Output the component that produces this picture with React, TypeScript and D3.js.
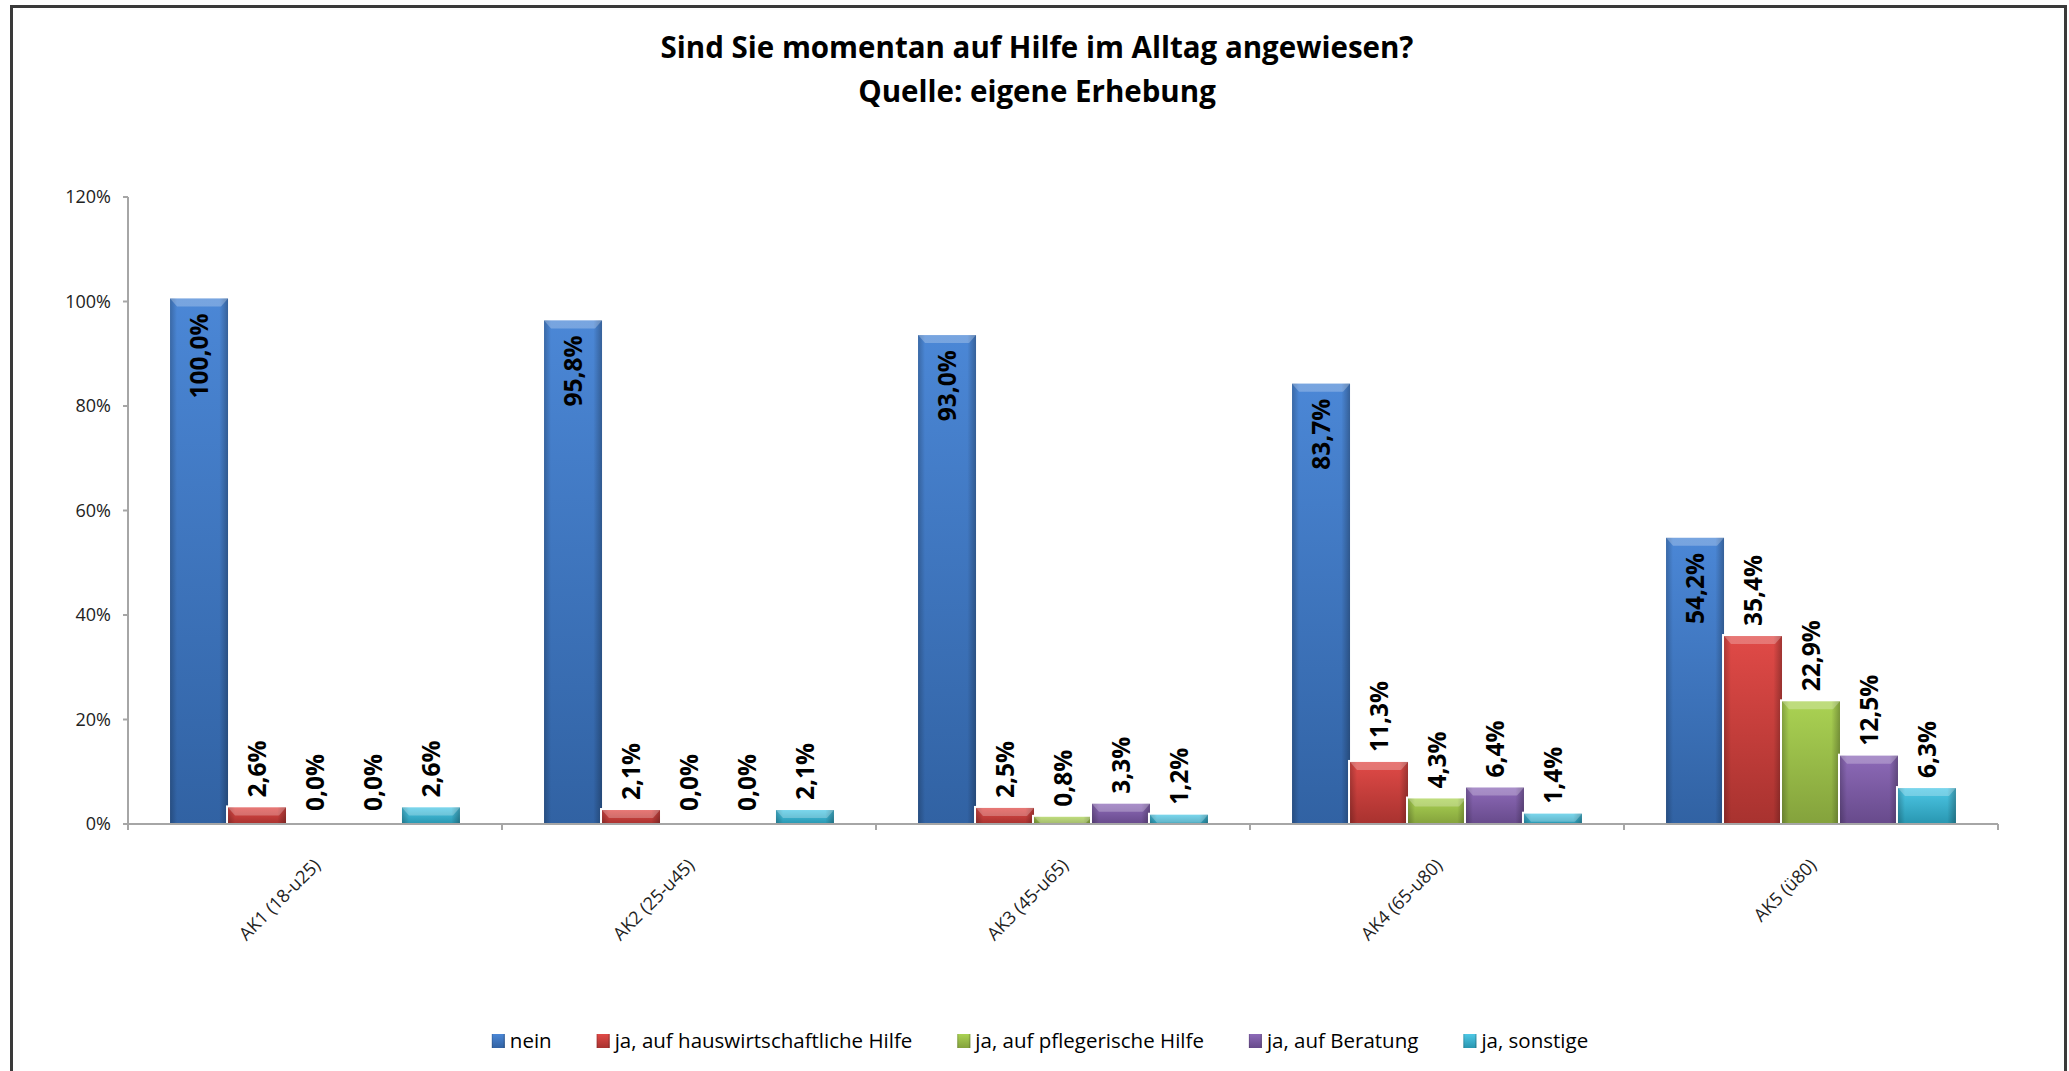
import React, { useEffect, useRef } from "react";
import * as d3 from "d3";

const categories = ["AK1 (18-u25)", "AK2 (25-u45)", "AK3 (45-u65)", "AK4 (65-u80)", "AK5 (ü80)"];
const seriesNames = [
  "nein",
  "ja, auf hauswirtschaftliche Hilfe",
  "ja, auf pflegerische Hilfe",
  "ja, auf Beratung",
  "ja, sonstige",
];
const nein = [100.0, 95.8, 93.0, 83.7, 54.2];
const hauswirtschaftlich = [2.6, 2.1, 2.5, 11.3, 35.4];
const pflegerisch = [0.0, 0.0, 0.8, 4.3, 22.9];
const beratung = [0.0, 0.0, 3.3, 6.4, 12.5];
const sonstige = [2.6, 2.1, 1.2, 1.4, 6.3];
const seriesValues = [nein, hauswirtschaftlich, pflegerisch, beratung, sonstige];
const yTicks = [0, 20, 40, 60, 80, 100, 120];

const palette = [
  { light: "#4b87d6", dark: "#3162a3" },
  { light: "#e04a47", dark: "#a8322f" },
  { light: "#aad253", dark: "#84a23c" },
  { light: "#8d6ab8", dark: "#674a8b" },
  { light: "#4ec8e6", dark: "#2896b0" },
];

const title1 = "Sind Sie momentan auf Hilfe im Alltag angewiesen?";
const title2 = "Quelle: eigene Erhebung";

const FONT = "'Open Sans', 'Liberation Sans', sans-serif";
const W = 2069;
const H = 1071;

const fmt = (v: number) => d3.format(".1f")(v).replace(".", ",") + "%";

const App: React.FC = () => {
  const svgRef = useRef<SVGSVGElement | null>(null);

  useEffect(() => {
    if (!svgRef.current) return;
    const svg = d3.select(svgRef.current);
    svg.selectAll("*").remove();

    const left = 128;
    const right = 1998;
    const top = 197;
    const bottom = 824;

    const defs = svg.append("defs");
    palette.forEach((c, i) => {
      const g = defs
        .append("linearGradient")
        .attr("id", `fill${i}`)
        .attr("x1", 0)
        .attr("y1", 0)
        .attr("x2", 0)
        .attr("y2", 1);
      g.append("stop").attr("offset", "0%").attr("stop-color", c.light);
      g.append("stop").attr("offset", "100%").attr("stop-color", c.dark);
    });
    const side = defs
      .append("linearGradient")
      .attr("id", "side")
      .attr("x1", 0)
      .attr("y1", 0)
      .attr("x2", 1)
      .attr("y2", 0);
    side.append("stop").attr("offset", "0%").attr("stop-color", "#000").attr("stop-opacity", 0.22);
    side.append("stop").attr("offset", "12%").attr("stop-color", "#000").attr("stop-opacity", 0);
    side.append("stop").attr("offset", "85%").attr("stop-color", "#000").attr("stop-opacity", 0);
    side.append("stop").attr("offset", "100%").attr("stop-color", "#000").attr("stop-opacity", 0.28);

    svg.append("rect").attr("width", W).attr("height", H).attr("fill", "#fff");

    // frame
    svg
      .append("rect")
      .attr("x", 11.5)
      .attr("y", 6.5)
      .attr("width", 2054)
      .attr("height", H + 20)
      .attr("fill", "none")
      .attr("stroke", "#3a3a3a")
      .attr("stroke-width", 3);

    // title
    [title1, title2].forEach((t, i) => {
      svg
        .append("text")
        .attr("x", 1037)
        .attr("y", 58 + i * 44)
        .attr("text-anchor", "middle")
        .attr("font-family", FONT)
        .attr("font-weight", "bold")
        .attr("font-size", 29.5)
        .text(t);
    });

    const y = d3.scaleLinear().domain([0, 120]).range([bottom, top]);
    const x0 = d3.scaleBand<string>().domain(categories).range([left, right]).padding(0);
    const x1 = d3
      .scaleBand<string>()
      .domain(seriesNames)
      .range([0, x0.bandwidth()])
      .paddingInner(0)
      .paddingOuter(0.725);

    // y axis
    const axisColor = "#a6a6a6";
    svg
      .append("line")
      .attr("x1", left)
      .attr("x2", left)
      .attr("y1", top)
      .attr("y2", bottom)
      .attr("stroke", axisColor)
      .attr("stroke-width", 2);
    yTicks.forEach((t) => {
      svg
        .append("line")
        .attr("x1", left - 5)
        .attr("x2", left)
        .attr("y1", y(t))
        .attr("y2", y(t))
        .attr("stroke", axisColor)
        .attr("stroke-width", 2);
      svg
        .append("text")
        .attr("x", left - 17)
        .attr("y", y(t))
        .attr("dy", "0.35em")
        .attr("text-anchor", "end")
        .attr("font-family", FONT)
        .attr("font-size", 18)
        .attr("fill", "#222")
        .text(`${t}%`);
    });

    // bars
    categories.forEach((cat, ci) => {
      const gx = x0(cat) ?? 0;
      seriesNames.forEach((s, si) => {
        const v = seriesValues[si][ci];
        const bx = gx + (x1(s) ?? 0);
        const bw = x1.bandwidth();
        const by = y(v) - 3;
        const bh = bottom - by;
        if (v > 0) {
          svg
            .append("rect")
            .attr("x", bx - 2)
            .attr("y", by - 2)
            .attr("width", bw + 4)
            .attr("height", bh + 2)
            .attr("fill", "#fff");
          svg
            .append("rect")
            .attr("x", bx)
            .attr("y", by)
            .attr("width", bw)
            .attr("height", bh)
            .attr("fill", `url(#fill${si})`);
          svg
            .append("rect")
            .attr("x", bx)
            .attr("y", by)
            .attr("width", bw)
            .attr("height", bh)
            .attr("fill", "url(#side)");
          const bev = Math.min(8, bh);
          svg
            .append("path")
            .attr(
              "d",
              `M${bx},${by}L${bx + bw},${by}L${bx + bw - 7},${by + bev}L${bx + 7},${by + bev}Z`
            )
            .attr("fill", "#fff")
            .attr("opacity", 0.25);
        }
        const cx = bx + bw / 2;
        const label = svg
          .append("text")
          .attr("font-family", FONT)
          .attr("font-weight", "bold")
          .attr("font-size", 24.5)
          .attr("fill", "#000")
          .attr("dy", "0.35em")
          .text(fmt(v));
        if (si === 0) {
          label
            .attr("text-anchor", "end")
            .attr("transform", `translate(${cx},${by + 15}) rotate(-90)`);
        } else {
          label
            .attr("text-anchor", "start")
            .attr("transform", `translate(${cx},${by - 10}) rotate(-90)`);
        }
      });
    });

    // x axis
    svg
      .append("line")
      .attr("x1", left)
      .attr("x2", right)
      .attr("y1", bottom)
      .attr("y2", bottom)
      .attr("stroke", axisColor)
      .attr("stroke-width", 2);
    const bounds = categories.map((c) => x0(c) ?? 0).concat([right]);
    bounds.forEach((bx) => {
      svg
        .append("line")
        .attr("x1", bx)
        .attr("x2", bx)
        .attr("y1", bottom)
        .attr("y2", bottom + 6)
        .attr("stroke", axisColor)
        .attr("stroke-width", 2);
    });
    categories.forEach((cat) => {
      const cx = (x0(cat) ?? 0) + x0.bandwidth() / 2;
      svg
        .append("text")
        .attr("text-anchor", "end")
        .attr("font-family", FONT)
        .attr("font-size", 18)
        .attr("fill", "#222")
        .attr("dy", "0.35em")
        .attr("transform", `translate(${cx + 2},${bottom + 38}) rotate(-45)`)
        .text(cat);
    });

    // legend
    const legend = svg.append("g");
    let lx = 0;
    const gap = 45;
    seriesNames.forEach((s, si) => {
      const item = legend.append("g").attr("transform", `translate(${lx},0)`);
      item
        .append("rect")
        .attr("x", 0)
        .attr("y", -7)
        .attr("width", 13)
        .attr("height", 14)
        .attr("fill", `url(#fill${si})`);
      item
        .append("rect")
        .attr("x", 0)
        .attr("y", -7)
        .attr("width", 13)
        .attr("height", 14)
        .attr("fill", "url(#side)");
      const t = item
        .append("text")
        .attr("x", 18)
        .attr("dy", "0.35em")
        .attr("font-family", FONT)
        .attr("font-size", 20.5)
        .attr("fill", "#000")
        .text(s);
      const tw = (t.node() as SVGTextElement).getComputedTextLength();
      lx += 18 + tw + gap;
    });
    const totalW = lx - gap;
    legend.attr("transform", `translate(${1040 - totalW / 2},1041)`);
  }, []);

  return (
    <svg
      ref={svgRef}
      width={W}
      height={H}
      style={{ position: "absolute", left: 0, top: 0, display: "block" }}
    ></svg>
  );
};

export default App;
